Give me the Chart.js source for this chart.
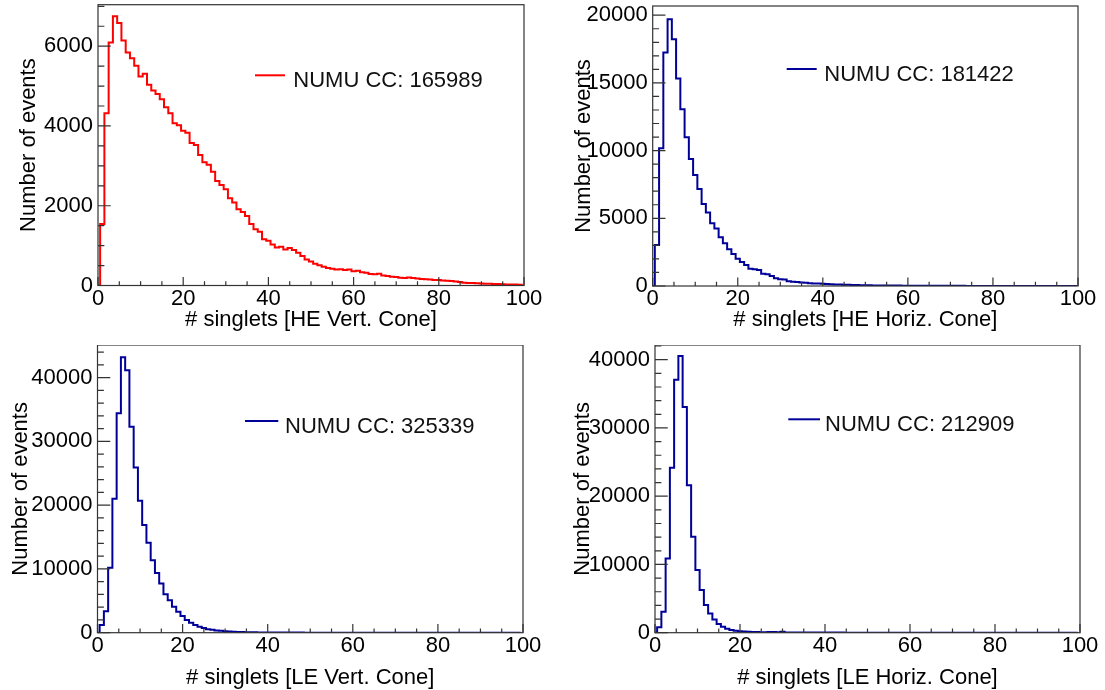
<!DOCTYPE html>
<html>
<head>
<meta charset="utf-8">
<script src="https://cdn.jsdelivr.net/npm/chart.js@4.4.1/dist/chart.umd.min.js"></script>
<style>
  html, body { margin: 0; padding: 0; background: #ffffff; }
  #page { position: relative; width: 1105px; height: 690px; overflow: hidden; background: #ffffff; }
  #page canvas { position: absolute; }
</style>
</head>
<body>
<div id="page">
  <canvas id="heVert"   width="552" height="345" style="left:0px;top:0px"></canvas>
  <canvas id="heHoriz"  width="553" height="345" style="left:552px;top:0px"></canvas>
  <canvas id="leVert"   width="552" height="345" style="left:0px;top:345px"></canvas>
  <canvas id="leHoriz"  width="553" height="345" style="left:552px;top:345px"></canvas>
</div>
<script>
// Histogram contents: one bin per integer number of singlets (0 .. 99).
const xTickValues = [0, 20, 40, 60, 80, 100];

const heVertCounts = [
  1540, 4320, 6090, 6750, 6580, 6140, 5840, 5700, 5510, 5240,
  5310, 5030, 4890, 4800, 4670, 4470, 4320, 4070, 4020, 3880,
  3830, 3570, 3520, 3270, 3090, 3030, 2850, 2620, 2520, 2410,
  2190, 2080, 1910, 1840, 1740, 1540, 1410, 1350, 1160, 1120,
  1030, 950, 970, 900, 940, 890, 820, 740, 650, 600,
  545, 510, 470, 440, 420, 400, 405, 390, 400, 360,
  370, 330, 320, 290, 280, 295, 250, 240, 220, 215,
  195, 190, 200, 185, 175, 165, 155, 150, 140, 135,
  125, 120, 110, 100, 90, 70, 65, 60, 55, 50,
  45, 42, 40, 35, 30, 28, 25, 22, 20, 18
];
const heVertTicksY = [0, 2000, 4000, 6000];

const heHorizCounts = [
  3030, 10170, 17240, 19700, 18230, 15320, 13050, 10990, 9380, 8200,
  7170, 6060, 5420, 4630, 4240, 3600, 3150, 2710, 2360, 2020,
  1770, 1550, 1280, 1230, 1180, 900, 870, 740, 570, 500,
  480, 350, 320, 300, 250, 240, 200, 190, 180, 160,
  150, 130, 115, 105, 95, 85, 78, 70, 62, 56,
  50, 46, 42, 40, 36, 34, 30, 28, 26, 25,
  22, 20, 21, 18, 16, 15, 14, 13, 12, 12,
  11, 10, 10, 9, 9, 8, 8, 7, 7, 7,
  6, 6, 6, 5, 5, 5, 5, 4, 4, 4,
  4, 3, 3, 3, 3, 3, 3, 2, 2, 2
];
const heHorizTicksY = [0, 5000, 10000, 15000, 20000];

const leVertCounts = [
  1200, 3350, 10200, 21000, 34400, 43200, 41150, 32300, 25900, 20700,
  16900, 14100, 11350, 9370, 7710, 6040, 5100, 4060, 3280, 2600,
  1980, 1560, 1200, 940, 720, 560, 450, 360, 290, 230,
  180, 150, 120, 100, 80, 65, 55, 45, 40, 35,
  30, 25, 22, 20, 18, 15, 14, 12, 10, 10,
  9, 8, 8, 7, 6, 6, 5, 5, 4, 4,
  4, 3, 3, 3, 3, 2, 2, 2, 2, 2,
  2, 1, 1, 1, 1, 1, 1, 1, 1, 1,
  1, 1, 1, 1, 0, 0, 0, 0, 0, 0,
  0, 0, 0, 0, 0, 0, 0, 0, 0, 0
];
const leVertTicksY = [0, 10000, 20000, 30000, 40000];

const leHorizCounts = [
  800, 3070, 10880, 24150, 37070, 40540, 33070, 21610, 14050, 9170,
  6240, 4050, 2830, 1950, 1270, 880, 590, 390, 300, 220,
  170, 140, 110, 90, 80, 70, 90, 120, 60, 130,
  45, 40, 35, 30, 28, 25, 22, 20, 18, 16,
  15, 14, 12, 11, 10, 9, 8, 8, 7, 6,
  6, 5, 5, 5, 4, 4, 4, 3, 3, 3,
  3, 3, 2, 2, 2, 2, 2, 2, 2, 1,
  1, 1, 1, 1, 1, 1, 1, 1, 1, 1,
  1, 1, 1, 0, 0, 0, 0, 0, 0, 0,
  0, 0, 0, 0, 0, 0, 0, 0, 0, 0
];
const leHorizTicksY = [0, 10000, 20000, 30000, 40000];

const entries = { heVert: 165989, heHoriz: 181422, leVert: 325339, leHoriz: 212909 };

// Pad layout (canvas-local pixels) and styling for each of the four pads.
const pads = [
  { id: 'heVert', counts: heVertCounts, ticksY: heVertTicksY, ySub: 4, yMax: 7040,
    color: '#ff0000', entries: entries.heVert, xTitle: '# singlets [HE Vert. Cone]',
    frame: { left: 98, top: 4.7, right: 524, bottom: 285.5 },
    yTitleX: 29, xTitleY: 326,
    legend: { x0: 255, x1: 285, y: 75.3, textX: 293.3, baseline: 87.3 } },
  { id: 'heHoriz', counts: heHorizCounts, ticksY: heHorizTicksY, ySub: 5, yMax: 20680,
    color: '#000099', entries: entries.heHoriz, xTitle: '# singlets [HE Horiz. Cone]',
    frame: { left: 100.7, top: 6, right: 526, bottom: 286 },
    yTitleX: 32, xTitleY: 326,
    legend: { x0: 234.7, x1: 264.7, y: 69, textX: 272.3, baseline: 81 } },
  { id: 'leVert', counts: leVertCounts, ticksY: leVertTicksY, ySub: 5, yMax: 45110,
    color: '#000099', entries: entries.leVert, xTitle: '# singlets [LE Vert. Cone]',
    frame: { left: 97.5, top: -1, right: 523, bottom: 287.7 },
    yTitleX: 21, xTitleY: 339,
    legend: { x0: 245, x1: 278.3, y: 76, textX: 285, baseline: 88 } },
  { id: 'leHoriz', counts: leHorizCounts, ticksY: leHorizTicksY, ySub: 5, yMax: 42150,
    color: '#000099', entries: entries.leHoriz, xTitle: '# singlets [LE Horiz. Cone]',
    frame: { left: 103, top: -0.3, right: 528, bottom: 287.7 },
    yTitleX: 31, xTitleY: 339,
    legend: { x0: 236.3, x1: 268, y: 74.3, textX: 273, baseline: 86.3 } }
];

const FONT = '22px "Liberation Sans", Arial, Helvetica, sans-serif';
const AXIS_COLOR = '#333333';
const xMinorStep = 5;

// Frame, inward ticks, labels, titles and legend in ROOT style.
const rootPadPlugin = {
  id: 'rootPad',
  afterDatasetsDraw(chart, args, opts) {
    const pad = opts.pad;
    const ctx = chart.ctx;
    const ca = chart.chartArea;
    const xs = chart.scales.x;
    const ys = chart.scales.y;
    const w = ca.right - ca.left;
    const h = ca.bottom - ca.top;
    const yMajorLen = 0.03 * w, yMinorLen = yMajorLen / 2;
    const xMajorLen = 0.03 * h, xMinorLen = xMajorLen / 2;

    ctx.save();
    ctx.strokeStyle = AXIS_COLOR;
    ctx.lineWidth = 1.2;
    ctx.strokeRect(ca.left, ca.top, w, h);

    ctx.beginPath();
    // x axis ticks (inside the frame)
    for (let v = xs.min; v <= xs.max + 1e-9; v += xMinorStep) {
      const px = xs.getPixelForValue(v);
      const len = xTickValues.includes(v) ? xMajorLen : xMinorLen;
      ctx.moveTo(px, ca.bottom);
      ctx.lineTo(px, ca.bottom - len);
    }
    // y axis ticks (inside the frame)
    const yStep = pad.ticksY[1] - pad.ticksY[0];
    const yMinor = yStep / pad.ySub;
    for (let v = 0; v <= ys.max + 1e-9; v += yMinor) {
      const py = ys.getPixelForValue(v);
      const isMajor = pad.ticksY.some(t => Math.abs(t - v) < 1e-6);
      ctx.moveTo(ca.left, py);
      ctx.lineTo(ca.left + (isMajor ? yMajorLen : yMinorLen), py);
    }
    ctx.stroke();

    // tick labels
    ctx.fillStyle = '#000000';
    ctx.font = FONT;
    ctx.textAlign = 'center';
    ctx.textBaseline = 'alphabetic';
    xTickValues.forEach(v => {
      ctx.fillText(String(v), xs.getPixelForValue(v), ca.bottom + 19);
    });
    ctx.textAlign = 'right';
    ctx.textBaseline = 'middle';
    pad.ticksY.forEach(v => {
      ctx.fillText(String(v), ca.left - 5, ys.getPixelForValue(v));
    });

    // axis titles
    ctx.textAlign = 'center';
    ctx.textBaseline = 'alphabetic';
    ctx.fillText(pad.xTitle, (ca.left + ca.right) / 2, pad.xTitleY);
    ctx.save();
    ctx.translate(pad.yTitleX, (ca.top + ca.bottom) / 2);
    ctx.rotate(-Math.PI / 2);
    ctx.textBaseline = 'middle';
    ctx.fillText('Number of events', 0, 0);
    ctx.restore();

    // legend entry
    const lg = pad.legend;
    const ds = chart.data.datasets[0];
    ctx.strokeStyle = ds.borderColor;
    ctx.lineWidth = 2;
    ctx.beginPath();
    ctx.moveTo(lg.x0, lg.y);
    ctx.lineTo(lg.x1, lg.y);
    ctx.stroke();
    ctx.fillStyle = '#111111';
    ctx.textAlign = 'left';
    ctx.textBaseline = 'alphabetic';
    ctx.fillText(ds.label, lg.textX, lg.baseline);
    ctx.restore();
  }
};

pads.forEach(pad => {
  const canvas = document.getElementById(pad.id);
  const W = canvas.width, H = canvas.height;
  // step outline: each bin spans [k - 0.5, k + 0.5]
  const points = [{ x: -0.5, y: 0 }];
  pad.counts.forEach((c, k) => points.push({ x: k + 0.5, y: c }));
  points.push({ x: pad.counts.length - 0.5, y: 0 });

  new Chart(canvas, {
    type: 'line',
    data: {
      datasets: [{
        label: 'NUMU CC: ' + pad.entries,
        data: points,
        borderColor: pad.color,
        borderWidth: 2,
        stepped: 'before',
        pointRadius: 0,
        fill: false
      }]
    },
    options: {
      responsive: false,
      animation: false,
      events: [],
      layout: {
        padding: {
          left: pad.frame.left,
          top: pad.frame.top < 0 ? 0 : pad.frame.top,
          right: W - pad.frame.right,
          bottom: H - pad.frame.bottom
        }
      },
      scales: {
        x: { type: 'linear', min: 0, max: 100, display: false },
        y: { type: 'linear', min: 0, max: pad.yMax, display: false }
      },
      plugins: {
        legend: { display: false },
        tooltip: { enabled: false },
        rootPad: { pad: pad }
      }
    },
    plugins: [rootPadPlugin]
  });
});
</script>
</body>
</html>
